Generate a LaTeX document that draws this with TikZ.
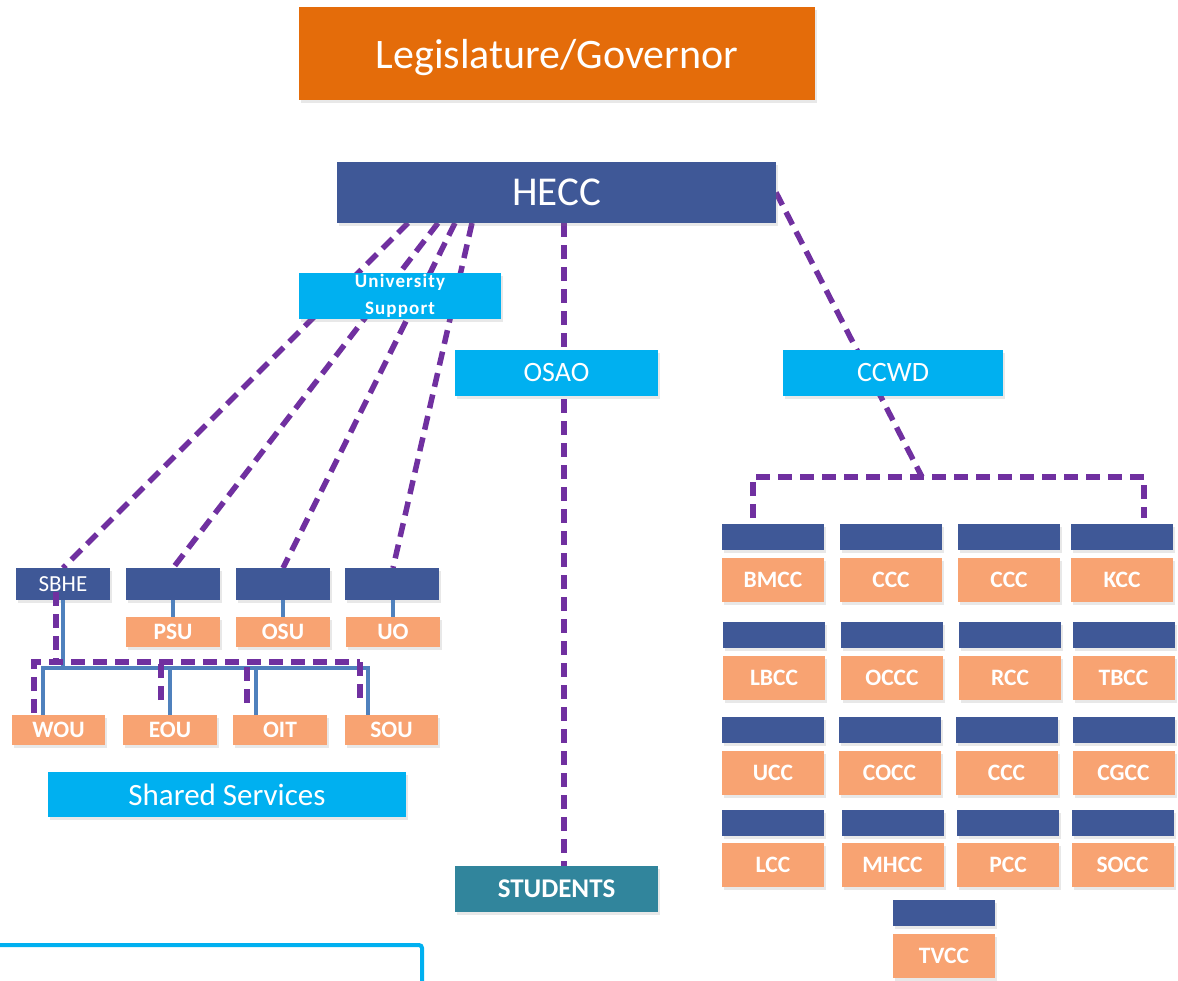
\documentclass[tikz,border=0pt]{standalone}
\usepackage{fontspec}
\setmainfont{Carlito}
\usetikzlibrary{shadows,calc}
\definecolor{legor}{HTML}{E46C0A}
\definecolor{navyb}{HTML}{3F5897}
\definecolor{cyanb}{HTML}{00B0F0}
\definecolor{lor}{HTML}{F8A372}
\definecolor{tealb}{HTML}{31859C}
\definecolor{purp}{HTML}{7030A0}
\definecolor{bblue}{HTML}{4F81BD}
\pgfdeclarelayer{bg}
\pgfsetlayers{bg,main}
\begin{document}
\begin{tikzpicture}[x=1pt,y=-1pt,
  box/.style={inner sep=0pt, outer sep=0pt, text=white, align=center,
    drop shadow={shadow xshift=2pt, shadow yshift=-3pt, opacity=0.18}},
  navybox/.style={box, fill=navyb},
  cyanbox/.style={box, fill=cyanb},
  orgbox/.style={box, fill=lor, font=\bfseries\fontsize{23.5}{28}\selectfont},
  unihdr/.style={navybox, minimum width=94pt, minimum height=32pt},
  uniorg/.style={orgbox, minimum width=94pt, minimum height=30pt},
  cchdr/.style={navybox, minimum width=102pt, minimum height=26pt},
  ccorg/.style={orgbox, minimum width=102pt, minimum height=44pt},
  pdash/.style={draw=purp, line width=5.5pt, dash pattern=on 14pt off 8pt},
  bline/.style={draw=bblue, line width=4.5pt}]
\useasboundingbox (0,0) rectangle (1178,980);

% top boxes
\node[box, fill=legor, minimum width=516pt, minimum height=93pt, text depth=0pt, font=\fontsize{42}{50}\selectfont] (leg) at (557,53.5) {Legislature/Governor};
\node[navybox, minimum width=439pt, minimum height=61pt, font=\fontsize{41}{49}\selectfont] (hecc) at (556.5,192.5) {HECC};
\node[cyanbox, minimum width=202pt, minimum height=46pt, font=\bfseries\fontsize{19}{27}\selectfont\addfontfeature{LetterSpace=6}] (us) at (400,296) {University\\Support};
\node[cyanbox, minimum width=203pt, minimum height=46pt, font=\fontsize{28}{33}\selectfont] (osao) at (556.5,373) {OSAO};
\node[cyanbox, minimum width=220pt, minimum height=46pt, font=\fontsize{28}{33}\selectfont] (ccwd) at (893,373) {CCWD};
\node[box, fill=tealb, minimum width=203pt, minimum height=46pt, font=\bfseries\fontsize{27}{32}\selectfont] (students) at (556.5,889) {STUDENTS};
\node[cyanbox, minimum width=358pt, minimum height=45pt, font=\fontsize{31}{36}\selectfont] (shared) at (227,794.5) {Shared Services};

% universities
\node[unihdr, font=\fontsize{23}{27}\selectfont] (sbhe) at (63,584) {SBHE};
\node[unihdr] (hpsu) at (173,584) {};
\node[unihdr] (hosu) at (283,584) {};
\node[unihdr] (huo) at (391.5,584) {};
\node[uniorg] (psu) at (173,632) {PSU};
\node[uniorg] (osu) at (283,632) {OSU};
\node[uniorg] (uo) at (393,632) {UO};
\node[uniorg, minimum width=93pt] (wou) at (58.5,730) {WOU};
\node[uniorg] (eou) at (170,730) {EOU};
\node[uniorg] (oit) at (280,730) {OIT};
\node[uniorg, minimum width=93pt] (sou) at (391.5,730) {SOU};

% community colleges
\node[cchdr] (h11) at (773,537) {};
\node[cchdr] (h12) at (891,537) {};
\node[cchdr] (h13) at (1009,537) {};
\node[cchdr] (h14) at (1122,537) {};
\node[ccorg] (c11) at (773,580) {BMCC};
\node[ccorg] (c12) at (891,580) {CCC};
\node[ccorg] (c13) at (1009,580) {CCC};
\node[ccorg] (c14) at (1122,580) {KCC};
\node[cchdr] (h21) at (774,635) {};
\node[cchdr] (h22) at (892,635) {};
\node[cchdr] (h23) at (1010,635) {};
\node[cchdr] (h24) at (1123.5,635) {};
\node[ccorg] (c21) at (774,678) {LBCC};
\node[ccorg] (c22) at (892,678) {OCCC};
\node[ccorg] (c23) at (1010,678) {RCC};
\node[ccorg] (c24) at (1123.5,678) {TBCC};
\node[cchdr] (h31) at (773,729.5) {};
\node[cchdr] (h32) at (889.5,729.5) {};
\node[cchdr] (h33) at (1006.5,729.5) {};
\node[cchdr] (h34) at (1123.5,729.5) {};
\node[ccorg] (c31) at (773,773) {UCC};
\node[ccorg] (c32) at (889.5,773) {COCC};
\node[ccorg] (c33) at (1006.5,773) {CCC};
\node[ccorg] (c34) at (1123.5,773) {CGCC};
\node[cchdr] (h41) at (773,822.5) {};
\node[cchdr] (h42) at (892.5,822.5) {};
\node[cchdr] (h43) at (1008,822.5) {};
\node[cchdr] (h44) at (1122.5,822.5) {};
\node[ccorg] (c41) at (773,865) {LCC};
\node[ccorg] (c42) at (892.5,865) {MHCC};
\node[ccorg] (c43) at (1008,865) {PCC};
\node[ccorg] (c44) at (1122.5,865) {SOCC};
\node[cchdr] (h51) at (944,913) {};
\node[ccorg] (c51) at (944,956) {TVCC};

% connectors behind boxes
\coordinate (ccbr) at (922,477);
\begin{pgfonlayer}{bg}
\draw[pdash] ([xshift=71pt]hecc.south west) -- (sbhe.north);
\draw[pdash] ([xshift=101pt]hecc.south west) -- (hpsu.north);
\draw[pdash] ([xshift=118pt]hecc.south west) -- (hosu.north);
\draw[pdash] ([xshift=135pt]hecc.south west) -- ([xshift=1.5pt]huo.north);
\draw[pdash] ([xshift=7.5pt]hecc.south) -- ([xshift=7.5pt]students.north);
\draw[pdash] (hecc.east) -- (ccbr);
\draw[pdash] ([xshift=-20pt,yshift=6pt]h11.north) |- (ccbr) -| ([xshift=22pt,yshift=6pt]h14.north);
\end{pgfonlayer}

% university local connectors
\draw[bline] (hpsu.south) -- (psu.north);
\draw[bline] (hosu.south) -- (osu.north);
\draw[bline] (uo.north |- huo.south) -- (uo.north);
\coordinate (bj) at (368,668);
\coordinate (pj) at (360,662);
\draw[bline] (sbhe.south) -- (sbhe.south |- bj);
\draw[bline] ([xshift=-15.5pt]wou.north) |- (bj) -- ([xshift=-23.5pt]sou.north);
\draw[bline] (eou.north |- bj) -- (eou.north);
\draw[bline] ([xshift=-24pt]oit.north) -- ++(0,-47);
\draw[pdash] ([xshift=-7pt,yshift=8pt]sbhe.south) -- ++(0,70);
\draw[pdash] ([xshift=-24.5pt,yshift=2pt]wou.north) |- (pj);
\draw[pdash] (pj) -- ++(0,40);
\draw[pdash] ([xshift=-9pt,yshift=15pt]eou.north) -- ++(0,-38);
\draw[pdash] ([xshift=-33pt,yshift=12pt]oit.north) -- ++(0,-41);

% partial outline box at bottom left
\draw[cyanb, line width=4pt, rounded corners=3pt] (-10,945) -- (422,945) -- (422,995);
\end{tikzpicture}
\end{document}
